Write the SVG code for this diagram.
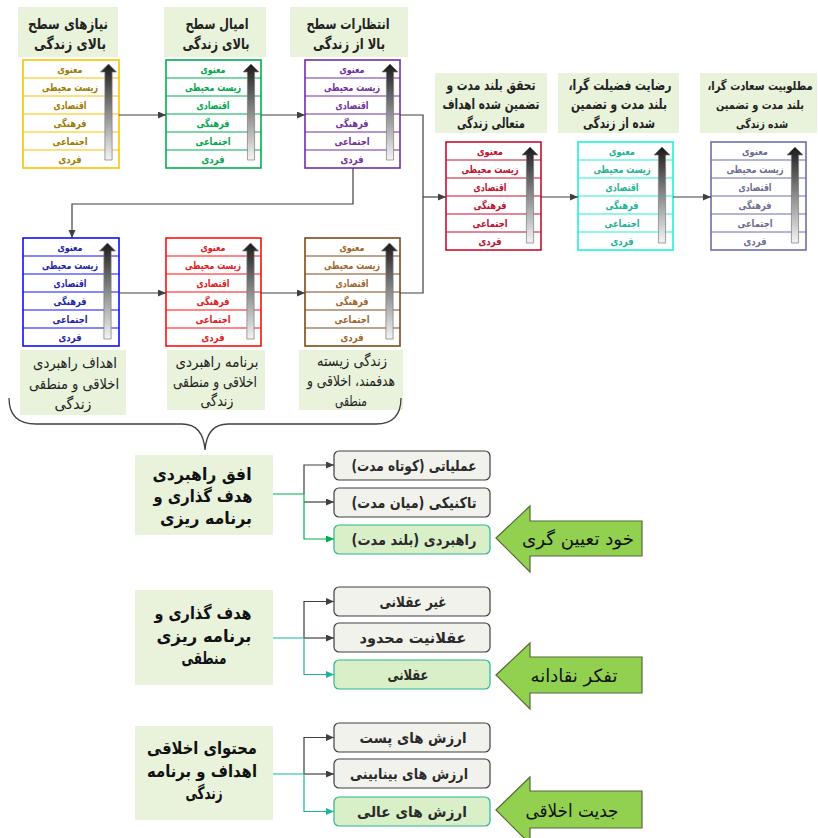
<svg xmlns="http://www.w3.org/2000/svg" xmlns:xlink="http://www.w3.org/1999/xlink" width="818" height="838" viewBox="0 0 818 838">
  <style>
    text { font-family: "DejaVu Sans", "Liberation Sans", sans-serif; direction: rtl; unicode-bidi: embed; text-anchor: middle; }
    .title { fill: #e9f3dc; }
    .ttl { font-size: 15px; font-weight: bold; fill: #222; }
    .ttl2 { font-size: 14px; font-weight: bold; fill: #222; }
    .ttl3 { font-size: 11.5px; font-weight: bold; fill: #222; }
    .lbl { font-size: 15px; fill: #222; }
    .cell { font-size: 10.5px; font-weight: bold; }
    .tbl { fill: #fff; stroke-width: 1.6; }
    .div { stroke-width: 1.2; }
    .link { fill: none; stroke: #404040; stroke-width: 1.2; }
    .brace { fill: none; stroke: #404040; stroke-width: 1.3; }
    .head { font-size: 17px; font-weight: bold; fill: #111; }
    .opt { fill: #f2f2ed; stroke: #3f3f3f; stroke-width: 1.2; }
    .opt-hi { fill: #d9efc8; stroke: #2db394; stroke-width: 1.2; }
    .opt-t { font-size: 15px; font-weight: bold; fill: #2a2a2a; }
    .big { fill: #92d050; stroke: #56683c; stroke-width: 1.2; }
    .big-t { font-size: 18px; fill: #111; }
    .c-y { stroke: #ffc000; } .t-y { fill: #9c7c00; }
    .c-g { stroke: #00b050; } .t-g { fill: #00a84c; }
    .c-p { stroke: #7030a0; } .t-p { fill: #7030a0; }
    .c-b { stroke: #1010ff; } .t-b { fill: #1f1fb0; }
    .c-r { stroke: #ff1010; } .t-r { fill: #e02020; }
    .c-n { stroke: #7f4a1c; } .t-n { fill: #a0672e; }
    .c-m { stroke: #c8102e; } .t-m { fill: #c0102e; }
    .c-c { stroke: #22f0d4; } .t-c { fill: #1fb294; }
    .c-s { stroke: #6f6faa; } .t-s { fill: #6e6e92; }
  </style>
  <defs>
    <linearGradient id="shade" x1="0" y1="0" x2="0" y2="1">
      <stop offset="0" stop-color="#1a1a1a"/>
      <stop offset="0.5" stop-color="#8a8a8a"/>
      <stop offset="1" stop-color="#f4f4f4"/>
    </linearGradient>
    <!-- upward shaded arrow used inside every level table -->
    <path id="rise" d="M0,0 L8,8 L3.6,8 L3.6,96 L-3.6,96 L-3.6,8 L-8,8 Z" fill="url(#shade)" stroke="#7a7a7a" stroke-width="0.7"/>
    <marker id="tip" markerWidth="8" markerHeight="8" refX="8" refY="3.5" orient="auto" markerUnits="userSpaceOnUse">
      <path d="M0,0 L8,3.5 L0,7 Z" fill="#404040"/>
    </marker>
    <marker id="tip-g" markerWidth="8" markerHeight="8" refX="8" refY="3.5" orient="auto" markerUnits="userSpaceOnUse">
      <path d="M0,0 L8,3.5 L0,7 Z" fill="#00b050"/>
    </marker>
    <marker id="tip-t" markerWidth="8" markerHeight="8" refX="8" refY="3.5" orient="auto" markerUnits="userSpaceOnUse">
      <path d="M0,0 L8,3.5 L0,7 Z" fill="#1fb59a"/>
    </marker>
  </defs>

  <!-- ===== level tables: top row ===== -->
  <g id="needs">
    <rect class="title" x="18" y="7" width="100" height="50"/>
    <text class="ttl" x="68" y="29" textLength="80" lengthAdjust="spacingAndGlyphs">نیازهای سطح</text>
    <text class="ttl" x="70" y="49" textLength="72" lengthAdjust="spacingAndGlyphs">بالای زندگی</text>
    <g transform="translate(23,60)">
      <rect class="tbl c-y" width="96" height="108"/>
      <path class="div c-y" d="M0,18H96M0,36H96M0,54H96M0,72H96M0,90H96"/>
      <g class="cell t-y">
        <text x="47" y="13" textLength="25" lengthAdjust="spacingAndGlyphs">معنوی</text>
        <text x="47" y="31" textLength="56" lengthAdjust="spacingAndGlyphs">زیست محیطی</text>
        <text x="47" y="49" textLength="33" lengthAdjust="spacingAndGlyphs">اقتصادی</text>
        <text x="47" y="67" textLength="33" lengthAdjust="spacingAndGlyphs">فرهنگی</text>
        <text x="47" y="85" textLength="35" lengthAdjust="spacingAndGlyphs">اجتماعی</text>
        <text x="47" y="103" textLength="23" lengthAdjust="spacingAndGlyphs">فردی</text>
      </g>
      <use href="#rise" x="85.5" y="4"/>
    </g>
  </g>

  <g id="desires">
    <rect class="title" x="164" y="7" width="102" height="50"/>
    <text class="ttl" x="217" y="29" textLength="63" lengthAdjust="spacingAndGlyphs">امیال سطح</text>
    <text class="ttl" x="216" y="49" textLength="67" lengthAdjust="spacingAndGlyphs">بالای زندگی</text>
    <g transform="translate(166,60)">
      <rect class="tbl c-g" width="95" height="108"/>
      <path class="div c-g" d="M0,18H95M0,36H95M0,54H95M0,72H95M0,90H95"/>
      <g class="cell t-g">
        <text x="47" y="13" textLength="25" lengthAdjust="spacingAndGlyphs">معنوی</text>
        <text x="47" y="31" textLength="56" lengthAdjust="spacingAndGlyphs">زیست محیطی</text>
        <text x="47" y="49" textLength="33" lengthAdjust="spacingAndGlyphs">اقتصادی</text>
        <text x="47" y="67" textLength="33" lengthAdjust="spacingAndGlyphs">فرهنگی</text>
        <text x="47" y="85" textLength="35" lengthAdjust="spacingAndGlyphs">اجتماعی</text>
        <text x="47" y="103" textLength="23" lengthAdjust="spacingAndGlyphs">فردی</text>
      </g>
      <use href="#rise" x="85" y="4"/>
    </g>
  </g>

  <g id="expectations">
    <rect class="title" x="290" y="7" width="118" height="50"/>
    <text class="ttl" x="348" y="29" textLength="83" lengthAdjust="spacingAndGlyphs">انتظارات سطح</text>
    <text class="ttl" x="349" y="49" textLength="72" lengthAdjust="spacingAndGlyphs">بالا از زندگی</text>
    <g transform="translate(305,60)">
      <rect class="tbl c-p" width="95" height="108"/>
      <path class="div c-p" d="M0,18H95M0,36H95M0,54H95M0,72H95M0,90H95"/>
      <g class="cell t-p">
        <text x="47" y="13" textLength="25" lengthAdjust="spacingAndGlyphs">معنوی</text>
        <text x="47" y="31" textLength="56" lengthAdjust="spacingAndGlyphs">زیست محیطی</text>
        <text x="47" y="49" textLength="33" lengthAdjust="spacingAndGlyphs">اقتصادی</text>
        <text x="47" y="67" textLength="33" lengthAdjust="spacingAndGlyphs">فرهنگی</text>
        <text x="47" y="85" textLength="35" lengthAdjust="spacingAndGlyphs">اجتماعی</text>
        <text x="47" y="103" textLength="23" lengthAdjust="spacingAndGlyphs">فردی</text>
      </g>
      <use href="#rise" x="85" y="4"/>
    </g>
  </g>

  <!-- ===== level tables: middle row ===== -->
  <g id="goals">
    <g transform="translate(23,238)">
      <rect class="tbl c-b" width="96" height="108"/>
      <path class="div c-b" d="M0,18H96M0,36H96M0,54H96M0,72H96M0,90H96"/>
      <g class="cell t-b">
        <text x="47" y="13" textLength="25" lengthAdjust="spacingAndGlyphs">معنوی</text>
        <text x="47" y="31" textLength="56" lengthAdjust="spacingAndGlyphs">زیست محیطی</text>
        <text x="47" y="49" textLength="33" lengthAdjust="spacingAndGlyphs">اقتصادی</text>
        <text x="47" y="67" textLength="33" lengthAdjust="spacingAndGlyphs">فرهنگی</text>
        <text x="47" y="85" textLength="35" lengthAdjust="spacingAndGlyphs">اجتماعی</text>
        <text x="47" y="103" textLength="23" lengthAdjust="spacingAndGlyphs">فردی</text>
      </g>
      <use href="#rise" x="84.5" y="5"/>
    </g>
    <rect class="title" x="20" y="350" width="106" height="65"/>
    <text class="lbl" x="75" y="368" textLength="84" lengthAdjust="spacingAndGlyphs">اهداف راهبردی</text>
    <text class="lbl" x="74" y="389" textLength="90" lengthAdjust="spacingAndGlyphs">اخلاقی و منطقی</text>
    <text class="lbl" x="73" y="409" textLength="37" lengthAdjust="spacingAndGlyphs">زندگی</text>
  </g>

  <g id="plan">
    <g transform="translate(166,238)">
      <rect class="tbl c-r" width="95" height="108"/>
      <path class="div c-r" d="M0,18H95M0,36H95M0,54H95M0,72H95M0,90H95"/>
      <g class="cell t-r">
        <text x="47" y="13" textLength="25" lengthAdjust="spacingAndGlyphs">معنوی</text>
        <text x="47" y="31" textLength="56" lengthAdjust="spacingAndGlyphs">زیست محیطی</text>
        <text x="47" y="49" textLength="33" lengthAdjust="spacingAndGlyphs">اقتصادی</text>
        <text x="47" y="67" textLength="33" lengthAdjust="spacingAndGlyphs">فرهنگی</text>
        <text x="47" y="85" textLength="35" lengthAdjust="spacingAndGlyphs">اجتماعی</text>
        <text x="47" y="103" textLength="23" lengthAdjust="spacingAndGlyphs">فردی</text>
      </g>
      <use href="#rise" x="84.5" y="5"/>
    </g>
    <rect class="title" x="167" y="350" width="98" height="60"/>
    <text class="lbl" x="217" y="367" textLength="83" lengthAdjust="spacingAndGlyphs">برنامه راهبردی</text>
    <text class="lbl" x="215" y="387" textLength="84" lengthAdjust="spacingAndGlyphs">اخلاقی و منطقی</text>
    <text class="lbl" x="217" y="406" textLength="33" lengthAdjust="spacingAndGlyphs">زندگی</text>
  </g>

  <g id="lived">
    <g transform="translate(305,238)">
      <rect class="tbl c-n" width="95" height="108"/>
      <path class="div c-n" d="M0,18H95M0,36H95M0,54H95M0,72H95M0,90H95"/>
      <g class="cell t-n">
        <text x="47" y="13" textLength="25" lengthAdjust="spacingAndGlyphs">معنوی</text>
        <text x="47" y="31" textLength="56" lengthAdjust="spacingAndGlyphs">زیست محیطی</text>
        <text x="47" y="49" textLength="33" lengthAdjust="spacingAndGlyphs">اقتصادی</text>
        <text x="47" y="67" textLength="33" lengthAdjust="spacingAndGlyphs">فرهنگی</text>
        <text x="47" y="85" textLength="35" lengthAdjust="spacingAndGlyphs">اجتماعی</text>
        <text x="47" y="103" textLength="23" lengthAdjust="spacingAndGlyphs">فردی</text>
      </g>
      <use href="#rise" x="84.5" y="5"/>
    </g>
    <rect class="title" x="299" y="350" width="104" height="60"/>
    <text class="lbl" x="352" y="366" textLength="70" lengthAdjust="spacingAndGlyphs">زندگی زیسته</text>
    <text class="lbl" x="351" y="386" textLength="88" lengthAdjust="spacingAndGlyphs">هدفمند، اخلاقی و</text>
    <text class="lbl" x="351" y="406" textLength="32" lengthAdjust="spacingAndGlyphs">منطقی</text>
  </g>

  <!-- ===== level tables: right row ===== -->
  <g id="fulfilment">
    <rect class="title" x="435" y="73" width="112" height="60"/>
    <text class="ttl2" x="491" y="90" textLength="89" lengthAdjust="spacingAndGlyphs">تحقق بلند مدت و</text>
    <text class="ttl2" x="491" y="109" textLength="97" lengthAdjust="spacingAndGlyphs">تضمین شده اهداف</text>
    <text class="ttl2" x="491" y="128" textLength="68" lengthAdjust="spacingAndGlyphs">متعالی زندگی</text>
    <g transform="translate(446,142)">
      <rect class="tbl c-m" width="95" height="108"/>
      <path class="div c-m" d="M0,18H95M0,36H95M0,54H95M0,72H95M0,90H95"/>
      <g class="cell t-m">
        <text x="44" y="13" textLength="26" lengthAdjust="spacingAndGlyphs">معنوی</text>
        <text x="44" y="31" textLength="57" lengthAdjust="spacingAndGlyphs">زیست محیطی</text>
        <text x="44" y="49" textLength="33" lengthAdjust="spacingAndGlyphs">اقتصادی</text>
        <text x="44" y="67" textLength="33" lengthAdjust="spacingAndGlyphs">فرهنگی</text>
        <text x="44" y="85" textLength="35" lengthAdjust="spacingAndGlyphs">اجتماعی</text>
        <text x="44" y="103" textLength="23" lengthAdjust="spacingAndGlyphs">فردی</text>
      </g>
      <use href="#rise" x="84" y="5"/>
    </g>
  </g>

  <g id="satisfaction">
    <rect class="title" x="558" y="73" width="121" height="60"/>
    <text class="ttl2" x="620" y="90" textLength="103" lengthAdjust="spacingAndGlyphs">رضایت فضیلت گرا،</text>
    <text class="ttl2" x="619" y="109" textLength="96" lengthAdjust="spacingAndGlyphs">بلند مدت و تضمین</text>
    <text class="ttl2" x="619" y="128" textLength="72" lengthAdjust="spacingAndGlyphs">شده از زندگی</text>
    <g transform="translate(578,142)">
      <rect class="tbl c-c" width="95" height="108"/>
      <path class="div c-c" d="M0,18H95M0,36H95M0,54H95M0,72H95M0,90H95"/>
      <g class="cell t-c">
        <text x="44" y="13" textLength="26" lengthAdjust="spacingAndGlyphs">معنوی</text>
        <text x="44" y="31" textLength="57" lengthAdjust="spacingAndGlyphs">زیست محیطی</text>
        <text x="44" y="49" textLength="33" lengthAdjust="spacingAndGlyphs">اقتصادی</text>
        <text x="44" y="67" textLength="33" lengthAdjust="spacingAndGlyphs">فرهنگی</text>
        <text x="44" y="85" textLength="35" lengthAdjust="spacingAndGlyphs">اجتماعی</text>
        <text x="44" y="103" textLength="23" lengthAdjust="spacingAndGlyphs">فردی</text>
      </g>
      <use href="#rise" x="84" y="5"/>
    </g>
  </g>

  <g id="desirability">
    <rect class="title" x="700" y="73" width="117" height="60"/>
    <text class="ttl3" transform="translate(760,90) scale(0.8,1)" style="font-size:12.5px">مطلوبیت سعادت گرا،</text>
    <text class="ttl3" x="760" y="109" textLength="88" lengthAdjust="spacingAndGlyphs">بلند مدت و تضمین</text>
    <text class="ttl3" x="762" y="128" textLength="52" lengthAdjust="spacingAndGlyphs">شده زندگی</text>
    <g transform="translate(711,142)">
      <rect class="tbl c-s" width="95" height="108"/>
      <path class="div c-s" d="M0,18H95M0,36H95M0,54H95M0,72H95M0,90H95"/>
      <g class="cell t-s">
        <text x="44" y="13" textLength="26" lengthAdjust="spacingAndGlyphs">معنوی</text>
        <text x="44" y="31" textLength="57" lengthAdjust="spacingAndGlyphs">زیست محیطی</text>
        <text x="44" y="49" textLength="33" lengthAdjust="spacingAndGlyphs">اقتصادی</text>
        <text x="44" y="67" textLength="33" lengthAdjust="spacingAndGlyphs">فرهنگی</text>
        <text x="44" y="85" textLength="35" lengthAdjust="spacingAndGlyphs">اجتماعی</text>
        <text x="44" y="103" textLength="23" lengthAdjust="spacingAndGlyphs">فردی</text>
      </g>
      <use href="#rise" x="84" y="5"/>
    </g>
  </g>

  <!-- ===== flow between tables ===== -->
  <g id="connectors">
    <path class="link" d="M119,115H166" marker-end="url(#tip)"/>
    <path class="link" d="M261,115H305" marker-end="url(#tip)"/>
    <path class="link" d="M353,168V204H72V238" marker-end="url(#tip)"/>
    <path class="link" d="M119,293H166" marker-end="url(#tip)"/>
    <path class="link" d="M261,293H305" marker-end="url(#tip)"/>
    <path class="link" d="M400,115H423V293H400"/>
    <path class="link" d="M423,197H446" marker-end="url(#tip)"/>
    <path class="link" d="M541,197H578" marker-end="url(#tip)"/>
    <path class="link" d="M673,197H711" marker-end="url(#tip)"/>
    <path class="brace" d="M9,398 Q9,424 36,424 L182,424 Q203,424 205,450 Q207,424 228,424 L376,424 Q401,424 401,398"/>

    <!-- horizon branch -->
    <path class="link" d="M304,494V465H334" marker-end="url(#tip)"/>
    <path class="link" d="M304,502H334" marker-end="url(#tip)"/>
    <path class="link" style="stroke:#00b050" d="M273,494H304V539H334" marker-end="url(#tip-g)"/>
    <!-- logic branch -->
    <path class="link" d="M304,638V601.5H334" marker-end="url(#tip)"/>
    <path class="link" d="M304,638H334" marker-end="url(#tip)"/>
    <path class="link" style="stroke:#1fb59a" d="M273,638H304V674.5H334" marker-end="url(#tip-t)"/>
    <!-- ethics branch -->
    <path class="link" d="M304,774V737.5H334" marker-end="url(#tip)"/>
    <path class="link" d="M304,774H334" marker-end="url(#tip)"/>
    <path class="link" style="stroke:#1fb59a" d="M273,774H304V811.5H334" marker-end="url(#tip-t)"/>
  </g>

  <!-- ===== planning horizon ===== -->
  <g id="horizon">
    <rect class="title" x="135" y="455" width="138" height="80"/>
    <text class="head" x="202" y="480" textLength="99" lengthAdjust="spacingAndGlyphs">افق راهبردی</text>
    <text class="head" x="203" y="502" textLength="99" lengthAdjust="spacingAndGlyphs">هدف گذاری و</text>
    <text class="head" x="206" y="524" textLength="92" lengthAdjust="spacingAndGlyphs">برنامه ریزی</text>
  </g>
  <g id="h-short"><rect class="opt" x="334" y="451" width="156" height="29" rx="5"/><text class="opt-t" x="414" y="470.5" textLength="125" lengthAdjust="spacingAndGlyphs">عملیاتی (کوتاه مدت)</text></g>
  <g id="h-mid"><rect class="opt" x="334" y="488" width="156" height="29" rx="5"/><text class="opt-t" x="414" y="507.5" textLength="125" lengthAdjust="spacingAndGlyphs">تاکنیکی (میان مدت)</text></g>
  <g id="h-long"><rect class="opt-hi" x="334" y="525" width="156" height="29" rx="5"/><text class="opt-t" x="414" y="544.5" textLength="125" lengthAdjust="spacingAndGlyphs">راهبردی  (بلند مدت)</text></g>
  <g id="self-determination">
    <polygon class="big" points="496,538 530,506 530,521 642,521 642,556 530,556 530,572"/>
    <text class="big-t" x="578" y="545" textLength="112" lengthAdjust="spacingAndGlyphs">خود تعیین گری</text>
  </g>

  <!-- ===== rationality ===== -->
  <g id="logic">
    <rect class="title" x="135" y="590" width="138" height="95"/>
    <text class="head" x="203" y="619" textLength="97" lengthAdjust="spacingAndGlyphs">هدف گذاری و</text>
    <text class="head" x="204" y="642" textLength="95" lengthAdjust="spacingAndGlyphs">برنامه ریزی</text>
    <text class="head" x="204" y="664" textLength="45" lengthAdjust="spacingAndGlyphs">منطقی</text>
  </g>
  <g id="r-non"><rect class="opt" x="334" y="587" width="156" height="29" rx="5"/><text class="opt-t" x="413" y="606.5" textLength="67" lengthAdjust="spacingAndGlyphs">غیر عقلانی</text></g>
  <g id="r-bounded"><rect class="opt" x="334" y="623" width="156" height="29" rx="5"/><text class="opt-t" x="413" y="642.5" textLength="107" lengthAdjust="spacingAndGlyphs">عقلانیت محدود</text></g>
  <g id="r-full"><rect class="opt-hi" x="334" y="660" width="156" height="29" rx="5"/><text class="opt-t" x="408" y="679.5" textLength="41" lengthAdjust="spacingAndGlyphs">عقلانی</text></g>
  <g id="critical-thinking">
    <polygon class="big" points="496,675 530,643 530,657 642,657 642,693 530,693 530,709"/>
    <text class="big-t" x="574" y="682" textLength="87" lengthAdjust="spacingAndGlyphs">تفکر نقادانه</text>
  </g>

  <!-- ===== moral content ===== -->
  <g id="ethics">
    <rect class="title" x="135" y="726" width="138" height="94"/>
    <text class="head" x="202" y="754" textLength="110" lengthAdjust="spacingAndGlyphs">محتوای اخلاقی</text>
    <text class="head" x="202" y="777" textLength="110" lengthAdjust="spacingAndGlyphs">اهداف و برنامه</text>
    <text class="head" x="204" y="799" textLength="37" lengthAdjust="spacingAndGlyphs">زندگی</text>
  </g>
  <g id="v-low"><rect class="opt" x="334" y="723" width="156" height="29" rx="5"/><text class="opt-t" x="413" y="742.5" textLength="107" lengthAdjust="spacingAndGlyphs">ارزش های پست</text></g>
  <g id="v-mid"><rect class="opt" x="334" y="759" width="156" height="29" rx="5"/><text class="opt-t" x="409" y="778.5" textLength="118" lengthAdjust="spacingAndGlyphs">ارزش های بینابینی</text></g>
  <g id="v-high"><rect class="opt-hi" x="334" y="797" width="156" height="29" rx="5"/><text class="opt-t" x="412" y="816.5" textLength="110" lengthAdjust="spacingAndGlyphs">ارزش های عالی</text></g>
  <g id="moral-seriousness">
    <polygon class="big" points="496,810 530,777 530,791 642,791 642,828 530,828 530,844"/>
    <text class="big-t" x="572" y="817" textLength="93" lengthAdjust="spacingAndGlyphs">جدیت اخلاقی</text>
  </g>
</svg>
